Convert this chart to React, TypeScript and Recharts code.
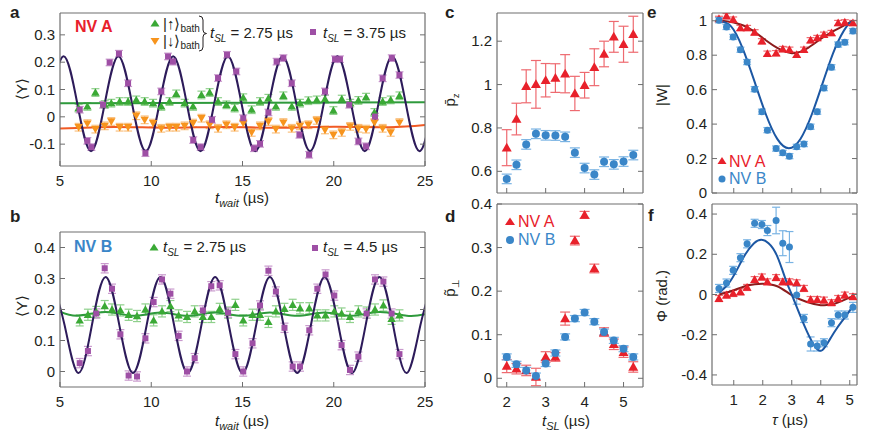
import React from "react";
import { ComposedChart, Line, Scatter, XAxis, YAxis, ErrorBar } from "recharts";

const FONT = "'Liberation Sans', Arial, Helvetica, sans-serif";
const INK = "#231f20";
const FRAME = "#6e6e6e";

const GREEN = "#3aa935", GREEN_ERR = "#8fd08c", GREEN_FIT = "#2e9a3c";
const ORANGE = "#f7941d", ORANGE_ERR = "#f9c07f", ORANGE_FIT = "#f15a24";
const PURPLE = "#9e4fa5", PURPLE_ERR = "#c99acd", PURPLE_FIT = "#2d1b5a";
const RED = "#e8212b", RED_ERR = "#ee6a70", RED_FIT = "#8c1c1c";
const BLUE = "#3a86c8", BLUE_ERR = "#79b3e3", BLUE_FIT = "#1c57a3";

// ---- panel a (NV A) ----
const aT = [6.02, 6.5, 6.94, 7.45, 7.81, 8.27, 8.73, 9.18, 9.64, 10.1, 10.55, 11.0, 11.37, 11.83, 12.29, 12.75, 13.2, 13.66, 14.12, 14.57,
  15.04, 15.5, 15.96, 16.42, 16.83, 17.24, 17.7, 18.15, 18.61, 19.07, 19.52, 19.98, 20.44, 20.9, 21.35, 21.77, 22.23, 22.68, 23.12, 23.6];
const aGreen = [0.032, 0.038, 0.089, 0.045, 0.05, 0.056, 0.056, 0.062, 0.056, 0.05, 0.038, 0.056, 0.084, 0.05, 0.038, 0.08, 0.089, 0.056, 0.044, 0.032,
  0.07, 0.026, 0.056, 0.068, 0.038, 0.077, 0.038, 0.05, 0.059, 0.062, 0.065, 0.023, 0.065, 0.05, 0.06, 0.072, 0.016, 0.056, 0.062, 0.077];
const aOrange = [-0.038, -0.025, -0.045, -0.033, -0.017, -0.038, -0.038, 0.004, -0.011, -0.023, -0.042, -0.038, -0.038, -0.033, -0.023, -0.005, -0.029, -0.042, -0.029, -0.038,
  -0.023, -0.057, -0.033, -0.017, -0.045, -0.021, -0.042, -0.033, -0.029, -0.013, -0.048, -0.066, -0.057, -0.035, -0.042, -0.045, -0.021, -0.042, -0.057, -0.021];
const aPurpleT = [6.08, 6.5, 6.72, 7.36, 7.72, 8.23, 8.73, 9.68, 10.55, 10.92, 11.19, 12.3, 12.71, 13.33, 13.66, 14.15, 14.66, 15.04, 15.63, 15.96,
  16.42, 16.87, 17.24, 17.7, 18.12, 18.65, 19.52, 20.07, 20.34, 20.85, 21.35, 21.77, 22.26, 22.68, 23.18, 23.6];
const aPurple = [0.026, -0.088, -0.111, 0.044, 0.199, 0.231, 0.123, -0.133, 0.093, 0.221, 0.202, -0.085, -0.111, -0.011, 0.142, 0.227, 0.166, -0.005, -0.115, -0.099,
  0.016, 0.202, 0.215, 0.123, -0.066, -0.139, 0.093, 0.211, 0.211, 0.044, -0.09, -0.108, 0.001, 0.141, 0.215, 0.153];
const aPurpleFitT = [4.45, 5.2, 5.95, 6.7, 7.45, 8.2, 8.95, 9.7, 10.45, 11.2, 11.95, 12.7, 13.45, 14.2, 14.95, 15.7, 16.45, 17.2, 17.95, 18.7,
  19.45, 20.2, 20.95, 21.7, 22.45, 23.2, 23.95, 24.7, 25.45];
const aPurpleFit = [0.048, 0.222, 0.048, -0.126, 0.048, 0.222, 0.048, -0.126, 0.048, 0.222, 0.048, -0.126, 0.048, 0.222, 0.048, -0.126,
  0.048, 0.222, 0.048, -0.126, 0.048, 0.222, 0.048, -0.126, 0.048, 0.222, 0.048, -0.126, 0.048];
const aGreenFitT = [5, 25];
const aGreenFit = [0.05, 0.053];
const aOrangeFitT = [5, 8, 11, 14, 17, 20, 23, 25];
const aOrangeFit = [-0.043, -0.037, -0.04, -0.037, -0.04, -0.036, -0.038, -0.03];

// ---- panel b (NV B) ----
const bT = [6.08, 6.53, 6.99, 7.45, 7.85, 8.31, 8.76, 9.22, 9.68, 10.13, 10.59, 11.05, 11.5, 11.96, 12.38, 12.83, 13.29, 13.75, 14.21, 14.61,
  15.04, 15.55, 15.96, 16.42, 16.83, 17.3, 17.75, 18.15, 18.66, 19.1, 19.55, 20.03, 20.43, 20.89, 21.35, 21.8, 22.26, 22.72, 23.17, 23.6];
const bPurple = [0.027, 0.066, 0.187, 0.333, 0.267, 0.12, -0.013, -0.016, 0.107, 0.224, 0.297, 0.251, 0.115, 0.0, 0.043, 0.197, 0.275, 0.278, 0.19, 0.056,
  0.0, 0.091, 0.213, 0.325, 0.258, 0.141, 0.016, 0.016, 0.133, 0.267, 0.313, 0.245, 0.085, 0.005, 0.048, 0.187, 0.297, 0.29, 0.187, 0.056];
const bGreen = [0.165, 0.183, 0.192, 0.211, 0.2, 0.197, 0.183, 0.179, 0.2, 0.165, 0.194, 0.211, 0.181, 0.176, 0.194, 0.176, 0.176, 0.202, 0.19, 0.215,
  0.165, 0.183, 0.183, 0.16, 0.194, 0.202, 0.215, 0.204, 0.204, 0.181, 0.181, 0.194, 0.187, 0.176, 0.194, 0.19, 0.2, 0.213, 0.17, 0.181];
const bPurpleFitT = [4.5, 5.25, 6.0, 6.75, 7.5, 8.25, 9.0, 9.75, 10.5, 11.25, 12.0, 12.75, 13.5, 14.25, 15.0, 15.75, 16.5, 17.25, 18.0, 18.75,
  19.5, 20.25, 21.0, 21.75, 22.5, 23.25, 24.0, 24.75, 25.5];
const bPurpleFit = [0.305, 0.15, -0.005, 0.15, 0.305, 0.15, -0.005, 0.15, 0.305, 0.15, -0.005, 0.15, 0.305, 0.15, -0.005, 0.15,
  0.305, 0.15, -0.005, 0.15, 0.305, 0.15, -0.005, 0.15, 0.305, 0.15, -0.005, 0.15, 0.305];
const bGreenFitT = [5, 6, 7.5, 9, 10.5, 12, 13.5, 15, 16.5, 18, 19.5, 21, 22.5, 24, 25];
const bGreenFit = [0.193, 0.18, 0.192, 0.18, 0.19, 0.18, 0.19, 0.18, 0.19, 0.18, 0.19, 0.18, 0.192, 0.18, 0.185];

// ---- panels c, d (vs t_SL) ----
const sl = [2, 2.25, 2.5, 2.75, 3, 3.25, 3.5, 3.75, 4, 4.25, 4.5, 4.75, 5, 5.25];
const cRed = [0.709, 0.841, 0.992, 1.001, 1.02, 1.03, 1.05, 0.959, 0.997, 1.08, 1.141, 1.22, 1.186, 1.232];
const cRedErr = [0.083, 0.073, 0.076, 0.11, 0.077, 0.066, 0.088, 0.079, 0.059, 0.085, 0.059, 0.071, 0.083, 0.083];
const cBlue = [0.565, 0.63, 0.724, 0.773, 0.766, 0.765, 0.759, 0.686, 0.615, 0.585, 0.644, 0.632, 0.645, 0.675];
const dRed = [0.028, 0.022, 0.018, 0.003, 0.049, 0.049, 0.137, 0.316, 0.375, 0.252, 0.106, 0.078, 0.06, 0.026];
const dRedErr = [0.015, 0.012, 0.012, 0.02, 0.012, 0.01, 0.015, 0.01, 0.008, 0.01, 0.01, 0.012, 0.012, 0.012];
const dBlue = [0.049, 0.032, 0.018, 0.005, 0.034, 0.058, 0.095, 0.137, 0.151, 0.13, 0.106, 0.087, 0.068, 0.049];

// ---- panels e, f (vs tau) ----
const tau = [0.49, 0.75, 0.98, 1.23, 1.46, 1.72, 1.97, 2.16, 2.46, 2.69, 2.92, 3.17, 3.42, 3.65, 3.88, 4.11, 4.37, 4.6, 4.83, 5.11];
const eRed = [1.011, 1.027, 1.007, 0.958, 0.958, 0.933, 0.881, 0.809, 0.812, 0.836, 0.832, 0.803, 0.832, 0.887, 0.9, 0.919, 0.929, 0.987, 0.991, 0.987];
const eBlue = [1.003, 0.964, 0.906, 0.832, 0.76, 0.603, 0.472, 0.365, 0.258, 0.233, 0.214, 0.268, 0.284, 0.385, 0.472, 0.609, 0.73, 0.862, 0.875, 0.94];
const eRedFitT = [0.5, 1.0, 1.5, 2.0, 2.5, 3.0, 3.5, 4.0, 4.5, 5.0, 5.1];
const eRedFit = [1.0, 0.99, 0.958, 0.9, 0.842, 0.812, 0.836, 0.894, 0.945, 0.991, 0.998];
const eBlueFitT = [0.5, 0.9, 1.3, 1.7, 2.1, 2.5, 2.9, 3.3, 3.7, 4.1, 4.5, 4.9, 5.1];
const eBlueFit = [0.997, 0.969, 0.843, 0.655, 0.46, 0.314, 0.26, 0.314, 0.46, 0.655, 0.843, 0.969, 0.997];
const fRed = [-0.02, -0.003, 0.005, 0.013, 0.035, 0.074, 0.087, 0.063, 0.084, 0.063, 0.063, 0.058, 0.03, -0.025, -0.025, -0.028, -0.041, -0.02, -0.003, -0.011];
const fBlue = [0.03, 0.057, 0.12, 0.183, 0.252, 0.354, 0.348, 0.318, 0.368, 0.255, 0.236, -0.003, -0.119, -0.246, -0.256, -0.24, -0.14, -0.102, -0.102, -0.064];
const fBlueErr = [0.02, 0.02, 0.02, 0.02, 0.02, 0.02, 0.02, 0.025, 0.066, 0.062, 0.077, 0.045, 0.02, 0.035, 0.025, 0.02, 0.02, 0.02, 0.02, 0.025];
const fRedFitT = [0.5, 1.0, 1.5, 2.0, 2.5, 3.0, 3.5, 4.0, 4.5, 5.0, 5.1];
const fRedFit = [0.0, 0.021, 0.046, 0.054, 0.041, -0.003, -0.036, -0.053, -0.045, -0.015, -0.01];
const fBlueFitT = [0.5, 0.8, 1.1, 1.4, 1.7, 1.95, 2.2, 2.5, 2.8, 3.0, 3.45, 3.9, 4.2, 4.5, 4.8, 5.1];
const fBlueFit = [0.01, 0.05, 0.12, 0.2, 0.255, 0.272, 0.255, 0.19, 0.07, 0.0, -0.16, -0.275, -0.25, -0.18, -0.12, -0.06];

type Row = { x: number; y: number; e?: number };
const rows = (xs: number[], ys: number[], es?: number | number[]): Row[] =>
  xs.map((x, i) => ({ x, y: ys[i], e: es === undefined ? undefined : typeof es === "number" ? es : es[i] }));

// marker shapes
const triUp = (c: string, s: number) => (p: any) =>
  <path d={`M${p.cx},${p.cy - s}L${p.cx + s},${p.cy + s * 0.75}L${p.cx - s},${p.cy + s * 0.75}Z`} fill={c} />;
const triDown = (c: string, s: number) => (p: any) =>
  <path d={`M${p.cx},${p.cy + s}L${p.cx + s},${p.cy - s * 0.75}L${p.cx - s},${p.cy - s * 0.75}Z`} fill={c} />;
const square = (c: string, s: number) => (p: any) => <rect x={p.cx - s} y={p.cy - s} width={2 * s} height={2 * s} fill={c} />;
const dot = (c: string, r: number) => (p: any) => <circle cx={p.cx} cy={p.cy} r={r} fill={c} />;

function pts(key: string, data: Row[], shape: (p: any) => any, err: string, cap = 4) {
  return (
    <Scatter key={key} data={data} dataKey="y" shape={shape} isAnimationActive={false}>
      <ErrorBar dataKey="e" direction="y" width={cap} stroke={err} strokeWidth={1.2} />
    </Scatter>
  );
}
function fit(key: string, data: Row[], color: string) {
  return <Line key={key} data={data} dataKey="y" type="natural" dot={false} activeDot={false} stroke={color} strokeWidth={2} isAnimationActive={false} />;
}

// ticks: all point inward, MATLAB style
const LeftTick = (p: any) => (
  <g>
    <line x1={p.x} x2={p.x + 5} y1={p.y} y2={p.y} stroke={FRAME} />
    <text x={p.x - 5} y={p.y + 5} textAnchor="end" fontSize={15} fontFamily={FONT} fill={INK}>{String(p.payload.value)}</text>
  </g>
);
const RightTick = (p: any) => <line x1={p.x} x2={p.x - 5} y1={p.y} y2={p.y} stroke={FRAME} />;
const TopTick = (p: any) => <line x1={p.x} x2={p.x} y1={p.y} y2={p.y + 5} stroke={FRAME} />;
const bottomTick = (show: boolean) => (p: any) => (
  <g>
    <line x1={p.x} x2={p.x} y1={p.y} y2={p.y - 5} stroke={FRAME} />
    {show && <text x={p.x} y={p.y + 20} textAnchor="middle" fontSize={15} fontFamily={FONT} fill={INK}>{String(p.payload.value)}</text>}
  </g>
);

type Box = { l: number; t: number; r: number; b: number };
function Panel(props: { box: Box; xd: number[]; yd: number[]; xt: number[]; yt: number[]; xLabels?: boolean; children: any }) {
  const { box, xd, yd, xt, yt, xLabels, children } = props;
  // axes are 1px thick each, so the plot box sits 1px inside the margins
  const m = { top: 12, right: 12, bottom: 32, left: 44 };
  const axisLine = { stroke: FRAME, strokeWidth: 1.2 };
  return (
    <div style={{ position: "absolute", left: box.l - m.left - 1, top: box.t - m.top - 1 }}>
      <ComposedChart width={box.r - box.l + m.left + m.right + 2} height={box.b - box.t + m.top + m.bottom + 2} margin={m}>
        <XAxis type="number" dataKey="x" domain={xd} ticks={xt} interval={0} allowDataOverflow height={1} tickSize={0} tickMargin={0}
          tickLine={false} axisLine={axisLine} tick={bottomTick(!!xLabels)} />
        <XAxis xAxisId="top" orientation="top" type="number" domain={xd} ticks={xt} interval={0} allowDataOverflow height={1} tickSize={0}
          tickMargin={0} tickLine={false} axisLine={axisLine} tick={TopTick} />
        <YAxis type="number" dataKey="y" domain={yd} ticks={yt} interval={0} allowDataOverflow width={1} tickSize={0} tickMargin={0}
          tickLine={false} axisLine={axisLine} tick={LeftTick} />
        <YAxis yAxisId="right" orientation="right" type="number" domain={yd} ticks={yt} interval={0} allowDataOverflow width={1} tickSize={0}
          tickMargin={0} tickLine={false} axisLine={axisLine} tick={RightTick} />
        {children}
      </ComposedChart>
    </div>
  );
}

const T = (p: any) => <text fontFamily={FONT} fill={INK} fontSize={15} {...p} />;
const sub = (s: string, size = 10) => <tspan fontSize={size} dy={4} fontStyle="italic">{s}</tspan>;

function Overlay() {
  return (
    <svg width={871} height={436} style={{ position: "absolute", left: 0, top: 0, pointerEvents: "none" }}>
      {/* panel letters */}
      <T x={10} y={18} fontSize={17} fontWeight="bold">a</T>
      <T x={10} y={222} fontSize={17} fontWeight="bold">b</T>
      <T x={445} y={18} fontSize={17} fontWeight="bold">c</T>
      <T x={445} y={222} fontSize={17} fontWeight="bold">d</T>
      <T x={647} y={18} fontSize={17} fontWeight="bold">e</T>
      <T x={648} y={221} fontSize={17} fontWeight="bold">f</T>

      {/* panel a legend */}
      <T x={75} y={32} fontSize={16} fontWeight="bold" fill={RED}>NV A</T>
      <path d="M155,19.5L159.5,26.5L150.5,26.5Z" fill={GREEN} />
      <T x={163} y={29}>|↑⟩<tspan fontSize={10} dy={3}>bath</tspan></T>
      <path d="M155,45L159.5,38L150.5,38Z" fill={ORANGE} />
      <T x={163} y={46}>|↓⟩<tspan fontSize={10} dy={3}>bath</tspan></T>
      <path d="M199,16Q203,16 203,20L203,30Q203,33.5 206.5,33.5Q203,33.5 203,37L203,47Q203,51 199,51" fill="none" stroke={INK} strokeWidth={1} />
      <T x={210} y={38}><tspan fontStyle="italic">t</tspan>{sub("SL")}<tspan dy={-4}> = 2.75 µs</tspan></T>
      <rect x={310} y={29} width={6} height={6} fill={PURPLE} />
      <T x={323} y={38}><tspan fontStyle="italic">t</tspan>{sub("SL")}<tspan dy={-4}> = 3.75 µs</tspan></T>

      {/* panel b legend */}
      <T x={74} y={252} fontSize={16} fontWeight="bold" fill={BLUE}>NV B</T>
      <path d="M154,243.5L158.5,250.5L149.5,250.5Z" fill={GREEN} />
      <T x={163} y={252}><tspan fontStyle="italic">t</tspan>{sub("SL")}<tspan dy={-4}> = 2.75 µs</tspan></T>
      <rect x={312} y={245} width={6} height={6} fill={PURPLE} />
      <T x={323} y={252}><tspan fontStyle="italic">t</tspan>{sub("SL")}<tspan dy={-4}> = 4.5 µs</tspan></T>

      {/* panel d legend */}
      <path d="M510,217.5L515,225L505,225Z" fill={RED} />
      <T x={518} y={227} fontSize={16} fill={RED}>NV A</T>
      <circle cx={510} cy={240} r={4} fill={BLUE} />
      <T x={518} y={245} fontSize={16} fill={BLUE}>NV B</T>

      {/* panel e legend */}
      <path d="M722,157L726.5,164L717.5,164Z" fill={RED} />
      <T x={729} y={167} fontSize={16} fill={RED}>NV A</T>
      <circle cx={722} cy={179} r={3.5} fill={BLUE} />
      <T x={729} y={184} fontSize={16} fill={BLUE}>NV B</T>

      {/* axis titles */}
      <T transform="translate(27,89) rotate(-90)" textAnchor="middle">⟨Y⟩</T>
      <T transform="translate(27,306) rotate(-90)" textAnchor="middle">⟨Y⟩</T>
      <T x={242} y={203} textAnchor="middle"><tspan fontStyle="italic">t</tspan>{sub("wait", 11)}<tspan dy={-4}> (µs)</tspan></T>
      <T x={242} y={426} textAnchor="middle"><tspan fontStyle="italic">t</tspan>{sub("wait", 11)}<tspan dy={-4}> (µs)</tspan></T>
      <T transform="translate(455,100) rotate(-90)" textAnchor="middle">p̄<tspan fontSize={9} dy={4}>z</tspan></T>
      <T transform="translate(455,288) rotate(-90)" textAnchor="middle">p̃<tspan fontSize={10} dy={4}>⊥</tspan></T>
      <T x={566} y={426} textAnchor="middle"><tspan fontStyle="italic">t</tspan>{sub("SL", 11)}<tspan dy={-4}> (µs)</tspan></T>
      <T transform="translate(667,95) rotate(-90)" textAnchor="middle">|W|</T>
      <T transform="translate(667,296) rotate(-90)" textAnchor="middle">Φ (rad.)</T>
      <T x={790} y={425} textAnchor="middle"><tspan fontStyle="italic">τ</tspan> (µs)</T>
    </svg>
  );
}

export default function App() {
  return (
    <div style={{ position: "absolute", left: 0, top: 0, width: 871, height: 436, background: "#fff", fontFamily: FONT }}>
      <Panel box={{ l: 60, t: 13, r: 425, b: 166 }} xd={[5, 25]} yd={[-0.18, 0.38]} xt={[5, 10, 15, 20, 25]} yt={[-0.1, 0, 0.1, 0.2, 0.3]} xLabels>
        {pts("ag", rows(aT, aGreen, 0.014), triUp(GREEN, 4.2), GREEN_ERR)}
        {pts("ao", rows(aT, aOrange, 0.014), triDown(ORANGE, 4.2), ORANGE_ERR)}
        {pts("ap", rows(aPurpleT, aPurple, 0.012), square(PURPLE, 3), PURPLE_ERR)}
        {fit("agf", rows(aGreenFitT, aGreenFit), GREEN_FIT)}
        {fit("aof", rows(aOrangeFitT, aOrangeFit), ORANGE_FIT)}
        {fit("apf", rows(aPurpleFitT, aPurpleFit), PURPLE_FIT)}
      </Panel>
      <Panel box={{ l: 60, t: 232, r: 425, b: 387 }} xd={[5, 25]} yd={[-0.05, 0.45]} xt={[5, 10, 15, 20, 25]} yt={[0, 0.1, 0.2, 0.3, 0.4]} xLabels>
        {pts("bg", rows(bT, bGreen, 0.018), triUp(GREEN, 4.2), GREEN_ERR)}
        {pts("bp", rows(bT, bPurple, 0.015), square(PURPLE, 3), PURPLE_ERR)}
        {fit("bgf", rows(bGreenFitT, bGreenFit), GREEN_FIT)}
        {fit("bpf", rows(bPurpleFitT, bPurpleFit), PURPLE_FIT)}
      </Panel>
      <Panel box={{ l: 497, t: 13, r: 643, b: 193 }} xd={[1.75, 5.5]} yd={[0.5, 1.33]} xt={[2, 3, 4, 5]} yt={[0.6, 0.8, 1, 1.2]}>
        {pts("cr", rows(sl, cRed, cRedErr), triUp(RED, 5), RED_ERR, 5)}
        {pts("cb", rows(sl, cBlue, 0.022), dot(BLUE, 4), BLUE_ERR, 5)}
      </Panel>
      <Panel box={{ l: 497, t: 204, r: 643, b: 387 }} xd={[1.75, 5.5]} yd={[-0.02, 0.4]} xt={[2, 3, 4, 5]} yt={[0, 0.1, 0.2, 0.3, 0.4]} xLabels>
        {pts("dr", rows(sl, dRed, dRedErr), triUp(RED, 5), RED_ERR, 5)}
        {pts("db", rows(sl, dBlue, 0.007), dot(BLUE, 4), BLUE_ERR, 5)}
      </Panel>
      <Panel box={{ l: 712, t: 13, r: 857, b: 193 }} xd={[0.25, 5.25]} yd={[0, 1.045]} xt={[1, 2, 3, 4, 5]} yt={[0, 0.2, 0.4, 0.6, 0.8, 1]}>
        {pts("er", rows(tau, eRed, 0.015), triUp(RED, 4.5), RED_ERR)}
        {pts("eb", rows(tau, eBlue, 0.015), dot(BLUE, 3.5), BLUE_ERR)}
        {fit("erf", rows(eRedFitT, eRedFit), RED_FIT)}
        {fit("ebf", rows(eBlueFitT, eBlueFit), BLUE_FIT)}
      </Panel>
      <Panel box={{ l: 712, t: 204, r: 857, b: 385 }} xd={[0.25, 5.25]} yd={[-0.45, 0.45]} xt={[1, 2, 3, 4, 5]} yt={[-0.4, -0.2, 0, 0.2, 0.4]} xLabels>
        {pts("fr", rows(tau, fRed, 0.015), triUp(RED, 4.5), RED_ERR)}
        {pts("fb", rows(tau, fBlue, fBlueErr), dot(BLUE, 3.5), BLUE_ERR)}
        {fit("frf", rows(fRedFitT, fRedFit), RED_FIT)}
        {fit("fbf", rows(fBlueFitT, fBlueFit), BLUE_FIT)}
      </Panel>
      <Overlay />
    </div>
  );
}
